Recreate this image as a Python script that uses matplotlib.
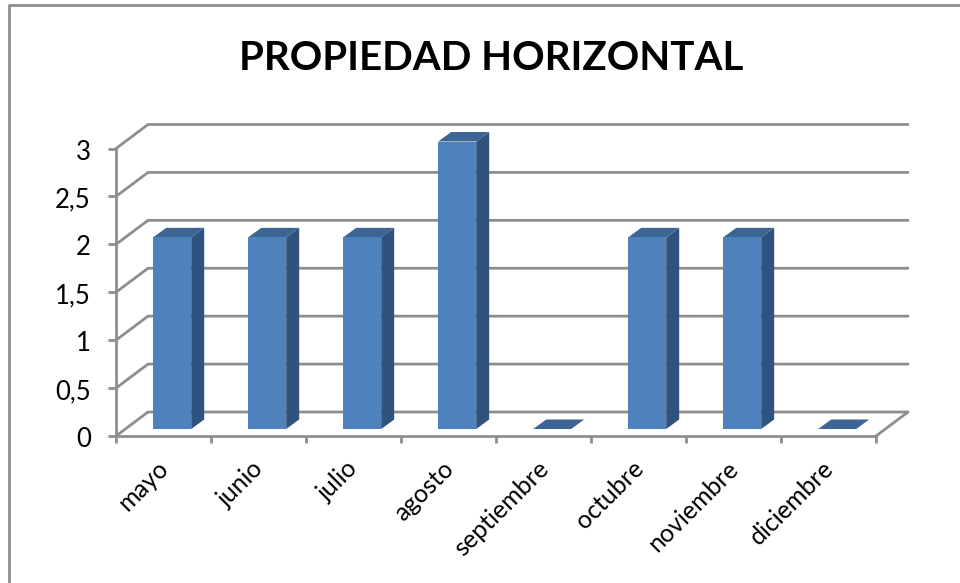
import matplotlib
matplotlib.use("Agg")
import matplotlib.pyplot as plt
from matplotlib.lines import Line2D
from matplotlib.patches import Polygon
from matplotlib.transforms import Affine2D

title = "PROPIEDAD HORIZONTAL"
months = ["mayo", "junio", "julio", "agosto", "septiembre", "octubre", "noviembre", "diciembre"]
values = [2, 2, 2, 3, 0, 2, 2, 0]
y_ticks = [0, 0.5, 1, 1.5, 2, 2.5, 3]
y_labels = ["0", "0,5", "1", "1,5", "2", "2,5", "3"]

W, H = 960, 583
GRID = "#8e8e8e"
FRONT = "#4f81bd"
TOP = "#3c6594"
SIDE = "#30527f"
LW = 2.0
plt.rcParams["font.family"] = ["Lato", "DejaVu Sans"]

fig = plt.figure(figsize=(W / 100, H / 100), dpi=100)

# chart frame (left and top visible in the crop)
fig.add_artist(Line2D([8.5 / W, 8.5 / W, 1], [0, 1 - 5 / H, 1 - 5 / H], color=GRID, lw=LW))

left, right, y0, y3 = 116, 876, 436, 148.5
ax = fig.add_axes([left / W, 1 - y0 / H, (right - left) / W, (y0 - y3) / H])
ax.set_xlim(0, len(months))
ax.set_ylim(0, 3)
ax.patch.set_alpha(0)
px = (right - left) / len(months)
py = (y0 - y3) / 3
wall_dx, wall_dy = 32 / px, 24 / py
bar_dx, bar_dy = 8.7 / px, 7 / py
depth_dx, depth_dy = 13 / px, 9.5 / py
bar_w = 38 / px

for s in ["top", "right"]:
    ax.spines[s].set_visible(False)
for s in ["left", "bottom"]:
    ax.spines[s].set_color(GRID)
    ax.spines[s].set_linewidth(LW)

line_kw = dict(color=GRID, lw=LW, clip_on=False, zorder=1, solid_capstyle="round")
for t in y_ticks:
    ax.plot([0, wall_dx, len(months) + wall_dx], [t, t + wall_dy, t + wall_dy], **line_kw)
ax.plot([len(months), len(months) + wall_dx], [0, wall_dy], **line_kw)

for i, v in enumerate(values):
    x0 = i + 0.5 - bar_w / 2 + bar_dx
    x1 = x0 + bar_w
    b = bar_dy
    t = b + v
    if v > 0:
        ax.add_patch(Polygon([(x1, b), (x1 + depth_dx, b + depth_dy), (x1 + depth_dx, t + depth_dy), (x1, t)],
                             fc=SIDE, ec="none", clip_on=False, zorder=3))
        ax.add_patch(Polygon([(x0, b), (x1, b), (x1, t), (x0, t)],
                             fc=FRONT, ec="none", clip_on=False, zorder=4))
    ax.add_patch(Polygon([(x0, t), (x1, t), (x1 + depth_dx, t + depth_dy), (x0 + depth_dx, t + depth_dy)],
                         fc=TOP, ec="none", clip_on=False, zorder=3))

ax.set_yticks(y_ticks)
ax.set_yticklabels(y_labels, fontsize=18.5, color="black")
ax.set_xticks(range(len(months) + 1))
ax.set_xticks([i + 0.5 for i in range(len(months))], minor=True)
ax.set_xticklabels([""] * (len(months) + 1))
ax.set_xticklabels(months, minor=True, fontsize=18, rotation=45, ha="right",
                   rotation_mode="anchor", color="black")
ax.tick_params(axis="y", length=6, width=LW, color=GRID, pad=12)
ax.tick_params(axis="x", which="major", length=5, width=LW, color=GRID)
ax.tick_params(axis="x", which="minor", length=0, pad=15)
for lab in ax.get_xticklabels(minor=True):
    lab.set_transform(lab.get_transform() + Affine2D().translate(-7, 0))
for lab in ax.get_yticklabels():
    lab.set_transform(lab.get_transform() + Affine2D().translate(0, -1))

fig.text(491 / W, 1 - 59 / H, title, fontsize=29, fontweight="bold", color="black", ha="center", va="center")

fig.savefig("out.png", dpi=100)
